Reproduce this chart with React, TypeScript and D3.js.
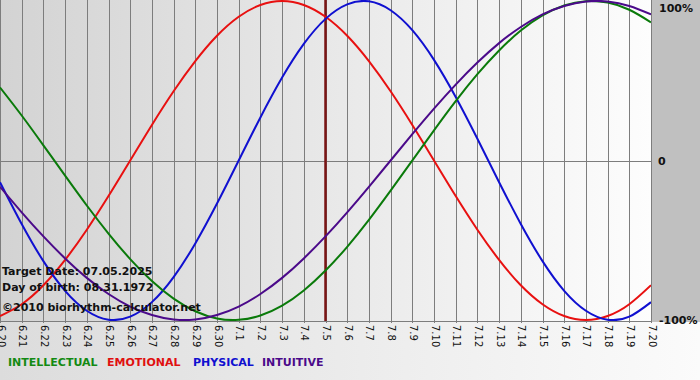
import React from "react";
import * as d3 from "d3";

const dayLabels = [
  "6.20", "6.21", "6.22", "6.23", "6.24", "6.25", "6.26", "6.27", "6.28", "6.29", "6.30",
  "7.1", "7.2", "7.3", "7.4", "7.5", "7.6", "7.7", "7.8", "7.9", "7.10",
  "7.11", "7.12", "7.13", "7.14", "7.15", "7.16", "7.17", "7.18", "7.19", "7.20",
];

const physical = [
  -0.136, -0.398, -0.631, -0.817, -0.942, -0.998, -0.979, -0.888, -0.731, -0.52, -0.27,
  0, 0.27, 0.52, 0.731, 0.888, 0.979, 0.998, 0.942, 0.817, 0.631,
  0.398, 0.136, -0.136, -0.398, -0.631, -0.817, -0.942, -0.998, -0.979, -0.888,
];
const emotional = [
  -0.975, -0.901, -0.782, -0.623, -0.434, -0.223, 0, 0.223, 0.434, 0.623, 0.782,
  0.901, 0.975, 1, 0.975, 0.901, 0.782, 0.623, 0.434, 0.223, 0,
  -0.223, -0.434, -0.623, -0.782, -0.901, -0.975, -1, -0.975, -0.901, -0.782,
];
const intellectual = [
  0.458, 0.282, 0.095, -0.095, -0.282, -0.458, -0.618, -0.756, -0.866, -0.945, -0.99,
  -0.999, -0.972, -0.91, -0.815, -0.69, -0.541, -0.372, -0.189, 0, 0.189,
  0.372, 0.541, 0.69, 0.815, 0.91, 0.972, 0.999, 0.99, 0.945, 0.866,
];
const intuitive = [
  -0.165, -0.325, -0.476, -0.614, -0.736, -0.837, -0.916, -0.969, -0.997, -0.997, -0.969,
  -0.916, -0.837, -0.736, -0.614, -0.476, -0.325, -0.165, 0, 0.165, 0.325,
  0.476, 0.614, 0.736, 0.837, 0.916, 0.969, 0.997, 0.997, 0.969, 0.916,
];

const targetIndex = 15;
const yTickValues = [1, 0, -1];
const yTickLabels = ["100%", "0", "-100%"];

const seriesNames = ["INTELLECTUAL", "EMOTIONAL", "PHYSICAL", "INTUITIVE"];
const seriesColors = ["#0a7a0a", "#e81010", "#1010d0", "#4b0a8a"];
const legendColors = ["#138a13", "#e01010", "#1010d0", "#4b0a8a"];
const seriesData = [intellectual, emotional, physical, intuitive];
const drawOrder = [1, 2, 0, 3];

const infoLines = ["Target Date: 07.05.2025", "Day of birth: 08.31.1972", "©2010 biorhythm-calculator.net"];

export default function App() {
  const W = 700;
  const H = 380;
  const plotRight = 651;
  const plotBottom = 321;
  const x = d3.scaleLinear().domain([0, dayLabels.length - 1]).range([0, plotRight]);
  const y = d3.scaleLinear().domain([-1, 1]).range([320, 1]);
  const line = d3
    .line<number>()
    .x((_, i) => x(i))
    .y((d) => y(d))
    .curve(d3.curveNatural);
  const font = "Verdana, 'DejaVu Sans', sans-serif";

  const legendX = [8, 107, 193, 262];

  return (
    <svg
      width={W}
      height={H}
      style={{ position: "fixed", left: 0, top: 0, display: "block" }}
      fontFamily={font}
    >
      <defs>
        <linearGradient id="bgGrad" x1="0" x2="1" y1="0" y2="0">
          <stop offset="0" stopColor="#dcdcdc" />
          <stop offset="1" stopColor="#fbfbfb" />
        </linearGradient>
        <linearGradient id="plotGrad" x1="0" x2="1" y1="0" y2="0">
          <stop offset="0" stopColor="#d3d3d3" />
          <stop offset="1" stopColor="#fdfdfd" />
        </linearGradient>
        <clipPath id="plotClip">
          <rect x={0} y={0} width={plotRight} height={plotBottom} />
        </clipPath>
      </defs>
      <rect x={0} y={0} width={W} height={H} fill="url(#bgGrad)" />
      <rect x={0} y={0} width={plotRight} height={plotBottom} fill="url(#plotGrad)" />
      <rect x={plotRight + 1} y={0} width={W - plotRight - 1} height={plotBottom + 1} fill="#c0c0c0" />

      {dayLabels.map((d, i) => (
        <line
          key={"g" + i}
          x1={Math.round(x(i)) + 0.5}
          x2={Math.round(x(i)) + 0.5}
          y1={0}
          y2={plotBottom + 2}
          stroke="#7d7d7d"
          strokeWidth={1}
        />
      ))}
      <line x1={0} x2={plotRight} y1={Math.round(y(0)) + 0.5} y2={Math.round(y(0)) + 0.5} stroke="#7d7d7d" />
      <line x1={0} x2={plotRight + 1} y1={plotBottom + 0.5} y2={plotBottom + 0.5} stroke="#7d7d7d" />

      <line
        x1={x(targetIndex)}
        x2={x(targetIndex)}
        y1={0}
        y2={plotBottom}
        stroke="#7a1414"
        strokeWidth={2.5}
      />

      <g clipPath="url(#plotClip)">
        {drawOrder.map((si) => (
          <path
            key={"s" + si}
            d={line(seriesData[si]) || ""}
            fill="none"
            stroke={seriesColors[si]}
            strokeWidth={2}
          />
        ))}
      </g>

      {infoLines.map((t, i) => (
        <text
          key={"info" + i}
          x={2}
          y={[275, 291, 311][i]}
          fontSize={11}
          fontWeight="bold"
          fill="#111"
        >
          {t}
        </text>
      ))}

      {yTickValues.map((v, i) => (
        <text
          key={"yt" + i}
          x={i === 1 ? 658 : 659}
          y={Math.min(Math.max(y(v), 8), plotBottom) + 4}
          fontSize={11}
          fontWeight="bold"
          fill="#111"
        >
          {yTickLabels[i]}
        </text>
      ))}

      {dayLabels.map((d, i) => (
        <text
          key={"xl" + i}
          transform={`translate(${x(i) + 1},325) rotate(90)`}
          fontSize={10}
          dy="0.35em"
          fill="#111"
        >
          {d}
        </text>
      ))}

      {seriesNames.map((n, i) => (
        <text
          key={"lg" + i}
          x={legendX[i]}
          y={366}
          fontSize={11}
          fontWeight="bold"
          fill={legendColors[i]}
        >
          {n}
        </text>
      ))}
    </svg>
  );
}
